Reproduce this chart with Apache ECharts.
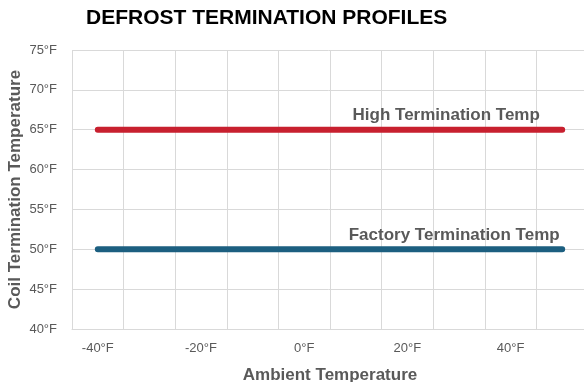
<!DOCTYPE html>
<html>
<head>
<meta charset="utf-8">
<script src="https://cdn.jsdelivr.net/npm/echarts@6/dist/echarts.min.js"></script>
<style>
  html, body { margin: 0; padding: 0; background: #fff; }
  #chart { width: 584px; height: 382px; }
</style>
</head>
<body>
<div id="chart"></div>
<script>
// Ambient temperature categories (°F)
const ambientTemps = [-40, -30, -20, -10, 0, 10, 20, 30, 40, 50];
// Coil termination temperatures (°F) for each profile
const highTermination = [65, 65, 65, 65, 65, 65, 65, 65, 65, 65];
const factoryTermination = [50, 50, 50, 50, 50, 50, 50, 50, 50, 50];
const seriesNames = ['High Termination Temp', 'Factory Termination Temp'];
const yTicks = { min: 40, max: 75, interval: 5 };

const FONT = 'Liberation Sans, Arial, sans-serif';
const GRID_COLOR = '#d9d9d9';
const TEXT_GRAY = '#595959';

// Put the series name above the last point of the line
function withEndLabel(values, offsetX) {
  return values.map((v, i) => {
    if (i !== values.length - 1) return v;
    return {
      value: v,
      label: {
        show: true,
        position: 'top',
        distance: 5,
        offset: [offsetX, 0],
        formatter: '{a}',
        fontFamily: FONT,
        fontSize: 17,
        fontWeight: 'bold',
        color: TEXT_GRAY
      }
    };
  });
}

const chart = echarts.init(document.getElementById('chart'), null, { renderer: 'canvas' });
chart.setOption({
  animation: false,
  backgroundColor: '#ffffff',
  title: {
    text: 'DEFROST TERMINATION PROFILES',
    left: 86,
    top: 8,
    padding: 0,
    textStyle: { fontFamily: FONT, fontSize: 21, fontWeight: 'bold', color: '#000000' }
  },
  grid: { left: 72, top: 50, width: 516, height: 279, containLabel: false, outerBoundsMode: 'none' },
  xAxis: {
    type: 'category',
    data: ambientTemps,
    boundaryGap: true,
    name: 'Ambient Temperature',
    nameLocation: 'middle',
    nameGap: 38,
    nameMoveOverlap: false,
    nameTextStyle: { fontFamily: FONT, fontSize: 17, fontWeight: 'bold', color: TEXT_GRAY },
    axisLine: { show: true, lineStyle: { color: GRID_COLOR, width: 1 } },
    axisTick: { show: false, interval: 0 },
    axisLabel: {
      interval: 1,
      margin: 13,
      fontFamily: FONT,
      fontSize: 13,
      color: TEXT_GRAY,
      formatter: v => v + '°F'
    },
    splitLine: { show: true, interval: 0, lineStyle: { color: GRID_COLOR, width: 1 } }
  },
  yAxis: {
    type: 'value',
    min: yTicks.min,
    max: yTicks.max,
    interval: yTicks.interval,
    name: 'Coil Termination Temperature',
    nameLocation: 'middle',
    nameGap: 48,
    nameMoveOverlap: false,
    nameTextStyle: { fontFamily: FONT, fontSize: 17, fontWeight: 'bold', color: TEXT_GRAY },
    axisLine: { show: false },
    axisTick: { show: false },
    axisLabel: {
      margin: 15,
      fontFamily: FONT,
      fontSize: 13,
      color: TEXT_GRAY,
      formatter: v => v + '°F'
    },
    splitLine: { show: true, lineStyle: { color: GRID_COLOR, width: 1 } }
  },
  series: [
    {
      name: seriesNames[0],
      type: 'line',
      data: withEndLabel(highTermination, -116),
      showSymbol: true,
      symbol: 'circle',
      symbolSize: 1,
      lineStyle: { color: '#C8202F', width: 6, cap: 'round' },
      itemStyle: { color: '#C8202F' }
    },
    {
      name: seriesNames[1],
      type: 'line',
      data: withEndLabel(factoryTermination, -108),
      showSymbol: true,
      symbol: 'circle',
      symbolSize: 1,
      lineStyle: { color: '#1C5F80', width: 6, cap: 'round' },
      itemStyle: { color: '#1C5F80' }
    }
  ]
});
</script>
</body>
</html>
